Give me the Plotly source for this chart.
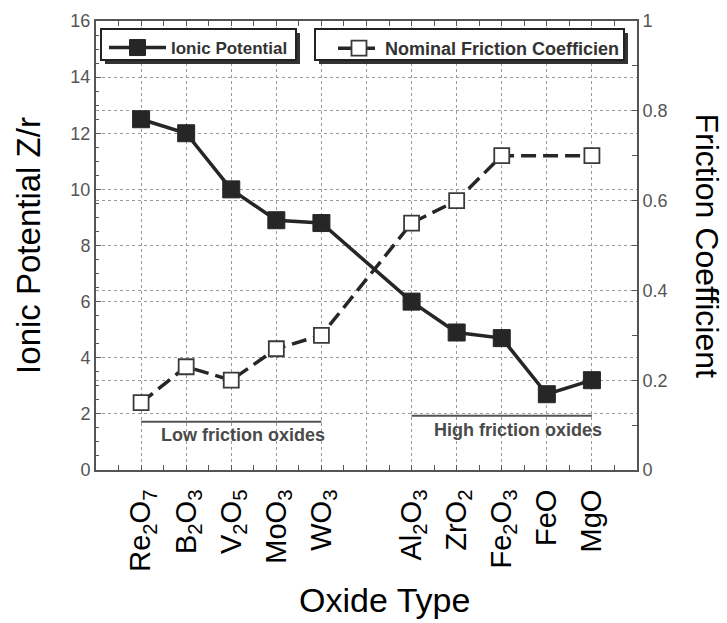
import plotly.graph_objects as go

# Oxides ordered by decreasing ionic potential; slot 6 is left empty to split the groups
oxides = ["Re<sub>2</sub>O<sub>7</sub>", "B<sub>2</sub>O<sub>3</sub>", "V<sub>2</sub>O<sub>5</sub>",
          "MoO<sub>3</sub>", "WO<sub>3</sub>", "Al<sub>2</sub>O<sub>3</sub>", "ZrO<sub>2</sub>",
          "Fe<sub>2</sub>O<sub>3</sub>", "FeO", "MgO"]
x_pos = [1, 2, 3, 4, 5, 7, 8, 9, 10, 11]
ionic_potential = [12.5, 12.0, 10.0, 8.9, 8.8, 6.0, 4.9, 4.7, 2.7, 3.2]
friction = [0.15, 0.23, 0.20, 0.27, 0.30, 0.55, 0.60, 0.70, None, 0.70]

# x tick labels (gap slot gets an empty label but keeps its grid line)
tick_vals = list(range(1, 12))
tick_text = oxides[:5] + [""] + oxides[5:]

W, H = 727, 623
L, R, T, B = 96, 90, 21, 153
PW, PH = W - L - R, H - T - B


def px(x):
    return (x - L) / PW


def py(y):
    return (H - B - y) / PH


DARK = "#262626"
GRID = "#9a9a9a"
FONT = "Liberation Sans, Arial, sans-serif"

fig = go.Figure()

fig.add_trace(go.Scatter(
    x=x_pos, y=ionic_potential, name="<b>Ionic Potential</b>",
    mode="lines+markers", legend="legend",
    line=dict(color=DARK, width=3.5),
    marker=dict(symbol="square", size=17, color=DARK, line=dict(color=DARK, width=1)),
))

fig.add_trace(go.Scatter(
    x=x_pos, y=friction, name="<b>Nominal Friction Coefficien</b>",
    mode="lines+markers", legend="legend2", yaxis="y2", connectgaps=True,
    line=dict(color=DARK, width=3.5, dash="15px,7px"),
    marker=dict(symbol="square", size=15, color="white", line=dict(color="#3a3a3a", width=1.8)),
))

# legend frames with drop shadows
shapes = []
for (x0, x1) in [(101, 296), (315, 624)]:
    y0, y1 = 29, 60
    shapes.append(dict(type="rect", xref="paper", yref="paper", layer="above",
                       x0=px(x0 + 4), x1=px(x1 + 4), y0=py(y1 + 4), y1=py(y0 + 4),
                       fillcolor="#333333", line=dict(width=0)))
    shapes.append(dict(type="rect", xref="paper", yref="paper", layer="above",
                       x0=px(x0), x1=px(x1), y0=py(y1), y1=py(y0),
                       fillcolor="white", line=dict(color="#222222", width=2)))

# group underlines
shapes.append(dict(type="line", xref="x", yref="y", x0=1, x1=5, y0=1.72, y1=1.72,
                   line=dict(color="#555555", width=2)))
shapes.append(dict(type="line", xref="x", yref="y", x0=7, x1=11, y0=1.93, y1=1.93,
                   line=dict(color="#555555", width=2)))

annotations = [
    dict(text="<b>Low friction oxides</b>", xref="x", yref="y", x=3.26, y=1.25,
         showarrow=False, font=dict(family=FONT, size=18, color="#4a4a4a")),
    dict(text="<b>High friction oxides</b>", xref="x", yref="y", x=9.36, y=1.43,
         showarrow=False, font=dict(family=FONT, size=18, color="#4a4a4a")),
    dict(text="Friction Coefficient", xref="paper", yref="paper", x=px(707), y=0.5,
         xanchor="center", yanchor="middle",
         textangle=90, showarrow=False, font=dict(family=FONT, size=32, color="black")),
    dict(text="Oxide Type", xref="paper", yref="paper", x=px(384), y=py(600),
         xanchor="center", yanchor="middle",
         showarrow=False, font=dict(family=FONT, size=34, color="black")),
]

fig.update_layout(
    width=W, height=H,
    margin=dict(l=L, r=R, t=T, b=B),
    paper_bgcolor="white", plot_bgcolor="white",
    font=dict(family=FONT),
    showlegend=True,
    shapes=shapes,
    annotations=annotations,
    legend=dict(x=px(104), y=py(30), xanchor="left", yanchor="top",
                bgcolor="rgba(0,0,0,0)", borderwidth=0, itemwidth=57,
                font=dict(family=FONT, size=17, color="#333333")),
    legend2=dict(x=px(333), y=py(30), xanchor="left", yanchor="top",
                 bgcolor="rgba(0,0,0,0)", borderwidth=0, itemwidth=42,
                 font=dict(family=FONT, size=18, color="#333333")),
    xaxis=dict(
        range=[0, 12], tickmode="array", tickvals=tick_vals, ticktext=tick_text,
        tickangle=-90, ticks="inside", ticklen=5, tickcolor="#555555",
        tickfont=dict(family=FONT, size=29, color="black"), ticklabelstandoff=6,
        showgrid=True, gridcolor=GRID, griddash="dot", gridwidth=1,
        showline=True, linecolor="#555555", linewidth=2, mirror="ticks",
        minor=dict(dtick=0.5, tick0=0, ticks="inside", ticklen=5, tickcolor="#555555", showgrid=False),
        zeroline=False,
    ),
    yaxis=dict(
        range=[0, 16], dtick=2, ticks="inside", ticklen=5, tickcolor="#555555",
        tickfont=dict(family=FONT, size=18, color="#555555"),
        showgrid=True, gridcolor=GRID, griddash="dot", gridwidth=1,
        showline=True, linecolor="#555555", linewidth=2, mirror=True,
        minor=dict(dtick=0.5, ticks="inside", ticklen=3, tickcolor="#555555", showgrid=False),
        title=dict(text="Ionic Potential Z/r", font=dict(family=FONT, size=33, color="black"), standoff=20),
        zeroline=False,
    ),
    yaxis2=dict(
        range=[0, 1], dtick=0.2, overlaying="y", side="right",
        ticks="inside", ticklen=5, tickcolor="#555555",
        tickfont=dict(family=FONT, size=18, color="#555555"),
        showgrid=True, gridcolor=GRID, griddash="dot", gridwidth=1,
        showline=True, linecolor="#555555", linewidth=2,
        minor=dict(dtick=0.1, ticks="inside", ticklen=5, tickcolor="#555555", showgrid=False),
        zeroline=False,
    ),
)

fig.write_html("out.html")
